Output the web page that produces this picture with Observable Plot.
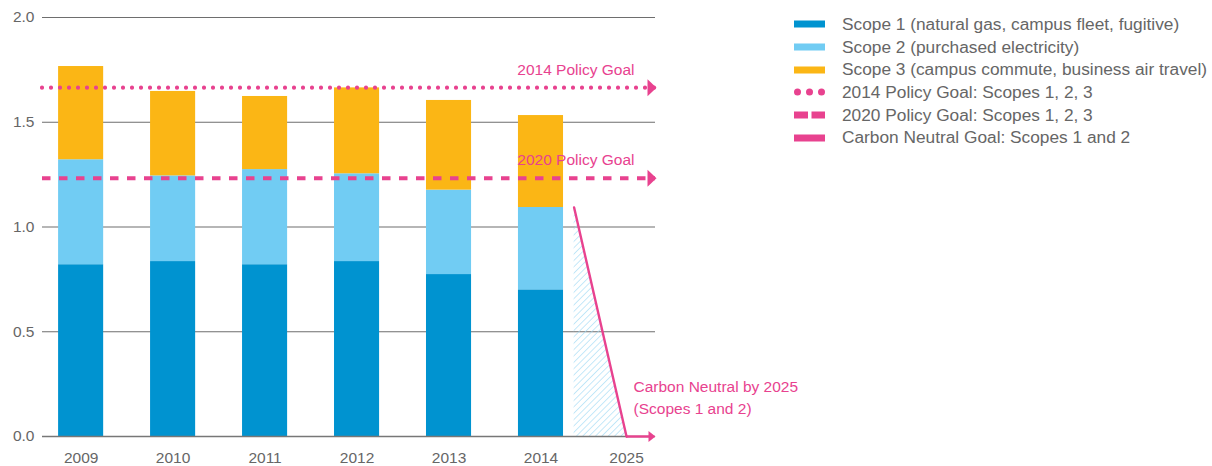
<!DOCTYPE html>
<html>
<head>
<meta charset="utf-8">
<script src="https://cdn.jsdelivr.net/npm/d3@7"></script>
<script src="https://cdn.jsdelivr.net/npm/@observablehq/plot@0.6"></script>
<style>
  html, body { margin: 0; padding: 0; background: #fff; }
  #wrap { position: relative; width: 1212px; height: 466px; font-family: "Liberation Sans", Arial, sans-serif; }
  #chart { position: absolute; left: 0; top: 0; }
  #legend { position: absolute; left: 794px; top: 13px; color: #666; font-size: 17.3px; }
  .row { display: flex; align-items: center; height: 22.7px; white-space: nowrap; }
  .row svg { margin-right: 17px; flex: none; }
</style>
</head>
<body>
<div id="wrap">
  <div id="chart"></div>
  <div id="legend"></div>
</div>
<script>
// ---- data ----
const years = ["2009", "2010", "2011", "2012", "2013", "2014"];
const scope1 = [0.820, 0.835, 0.820, 0.835, 0.773, 0.700];
const scope2 = [0.501, 0.409, 0.454, 0.419, 0.403, 0.393];
const scope3 = [0.445, 0.403, 0.349, 0.410, 0.428, 0.439];
const goal2014 = 1.665;
const goal2020 = 1.233;
const neutralYear = "2025";
const neutralValue = 0;
const yTicks = [0, 0.5, 1.0, 1.5, 2.0];
const seriesNames = [
  "Scope 1 (natural gas, campus fleet, fugitive)",
  "Scope 2 (purchased electricity)",
  "Scope 3 (campus commute, business air travel)"
];
const goalNames = [
  "2014 Policy Goal: Scopes 1, 2, 3",
  "2020 Policy Goal: Scopes 1, 2, 3",
  "Carbon Neutral Goal: Scopes 1 and 2"
];
const goalLabels = ["2014 Policy Goal", "2020 Policy Goal"];
const neutralLabel = ["Carbon Neutral by 2025", "(Scopes 1 and 2)"];

// ---- style / layout ----
const colors = ["#0093d0", "#71ccf3", "#fbb615"];
const pink = "#e8428f";
const textGray = "#666";
const gridGray = "#6e6e6e";
const font = "'Liberation Sans', Arial, sans-serif";
// horizontal slot layout (slot units; bars at integer slots)
const barHalf = 0.245;
const xDomain = [-0.42, 6.245];
const projStart = 5.36;   // start of the carbon-neutral projection
const projEnd = 5.93;     // slot of the 2025 tick

// build stacked rows
const rows = [];
years.forEach((yr, i) => {
  const vals = [scope1[i], scope2[i], scope3[i]];
  let base = 0;
  vals.forEach((v, k) => {
    rows.push({i, year: yr, k, y1: base, y2: base + v});
    base += v;
  });
});
const scope12Last = scope1[5] + scope2[5];
const proj = [{x: projStart, y: scope12Last}, {x: projEnd, y: neutralValue}];

const tickPos = [...years.map((_, i) => i), projEnd];
const tickLab = [...years, neutralYear];

const bigHead = {draw(ctx) { ctx.moveTo(1, 0); ctx.lineTo(-8, -8.5); ctx.lineTo(-8, 8.5); ctx.closePath(); }};
const smallHead = {draw(ctx) { ctx.moveTo(0, 0); ctx.lineTo(-7, -5.5); ctx.lineTo(-7, 5.5); ctx.closePath(); }};

const chart = Plot.plot({
  width: 800,
  height: 466,
  marginLeft: 42,
  marginRight: 145,
  marginTop: 17,
  marginBottom: 30,
  style: {fontFamily: font, fontSize: "15px", color: textGray, background: "transparent", overflow: "visible"},
  x: {type: "linear", domain: xDomain},
  y: {domain: [0, 2]},
  marks: [
    Plot.ruleY(yTicks.filter(d => d > 0), {stroke: gridGray, strokeWidth: 1.1}),
    Plot.areaY(proj, {x: "x", y: "y", fill: "url(#hatch)"}),
    Plot.rect(rows, {x1: d => d.i - barHalf, x2: d => d.i + barHalf, y1: "y1", y2: "y2", fill: d => colors[d.k]}),
    Plot.ruleY([0], {stroke: "#777", strokeWidth: 1.3}),
    Plot.ruleY([goal2014], {stroke: pink, strokeWidth: 4.2, strokeDasharray: "0,9", strokeLinecap: "round"}),
    Plot.ruleY([goal2020], {stroke: pink, strokeWidth: 4, strokeDasharray: "8.5,8.5"}),
    Plot.dot([goal2014, goal2020], {x: xDomain[1], y: d => d, symbol: bigHead, fill: pink, stroke: "none"}),
    Plot.text([goal2014, goal2020], {x: xDomain[1], y: d => d, text: (d, i) => goalLabels[i], textAnchor: "end", dx: -21, dy: -18, fill: pink, fontSize: 15.5}),
    Plot.line(proj, {x: "x", y: "y", stroke: pink, strokeWidth: 2.4}),
    Plot.ruleY([neutralValue], {x1: projEnd, x2: xDomain[1] - 0.05, stroke: pink, strokeWidth: 2.4}),
    Plot.dot([neutralValue], {x: xDomain[1], y: d => d, symbol: smallHead, fill: pink, stroke: "none"}),
    Plot.text([neutralLabel.join("\n")], {x: projEnd, y: neutralValue, text: d => d, textAnchor: "start", lineAnchor: "middle", lineHeight: 1.42, dx: 7, dy: -41, fill: pink, fontSize: 15.5}),
    Plot.axisY({ticks: yTicks, tickFormat: d3.format(".1f"), tickSize: 0, tickPadding: 8, color: textGray, fontSize: 15.5, label: null}),
    Plot.axisX({ticks: tickPos, tickFormat: (d, i) => tickLab[i], tickSize: 0, tickPadding: 15, color: textGray, fontSize: 15.5, label: null})
  ]
});

// hatch pattern
const svg = d3.select(chart);
const defs = svg.insert("defs", ":first-child");
const pat = defs.append("pattern").attr("id", "hatch").attr("patternUnits", "userSpaceOnUse")
  .attr("width", 4.5).attr("height", 4.5).attr("patternTransform", "rotate(45)");
pat.append("line").attr("x1", 0).attr("y1", 0).attr("x2", 0).attr("y2", 4.5)
  .attr("stroke", "#9fdaf5").attr("stroke-width", 1.2);

document.getElementById("chart").appendChild(chart);

// legend
const leg = document.getElementById("legend");
function sw(kind, color) {
  const ns = "http://www.w3.org/2000/svg";
  const s = document.createElementNS(ns, "svg");
  s.setAttribute("width", 31); s.setAttribute("height", 10);
  const add = (tag, attrs) => { const e = document.createElementNS(ns, tag); for (const k in attrs) e.setAttribute(k, attrs[k]); s.appendChild(e); };
  if (kind === "bar") add("rect", {x: 0, y: 1.5, width: 31, height: 7, fill: color});
  else if (kind === "dots") [3.5, 15.5, 27.5].forEach(cx => add("circle", {cx, cy: 5, r: 3.5, fill: color}));
  else if (kind === "dash") { add("rect", {x: 0, y: 1.5, width: 14, height: 7, fill: color}); add("rect", {x: 17.5, y: 1.5, width: 13.5, height: 7, fill: color}); }
  return s;
}
const items = [
  ...seriesNames.map((n, k) => ({kind: "bar", color: colors[k], name: n})),
  {kind: "dots", color: pink, name: goalNames[0]},
  {kind: "dash", color: pink, name: goalNames[1]},
  {kind: "bar", color: pink, name: goalNames[2]}
];
items.forEach(it => {
  const r = document.createElement("div");
  r.className = "row";
  r.appendChild(sw(it.kind, it.color));
  const sp = document.createElement("span");
  sp.textContent = it.name;
  r.appendChild(sp);
  leg.appendChild(r);
});
</script>
</body>
</html>
